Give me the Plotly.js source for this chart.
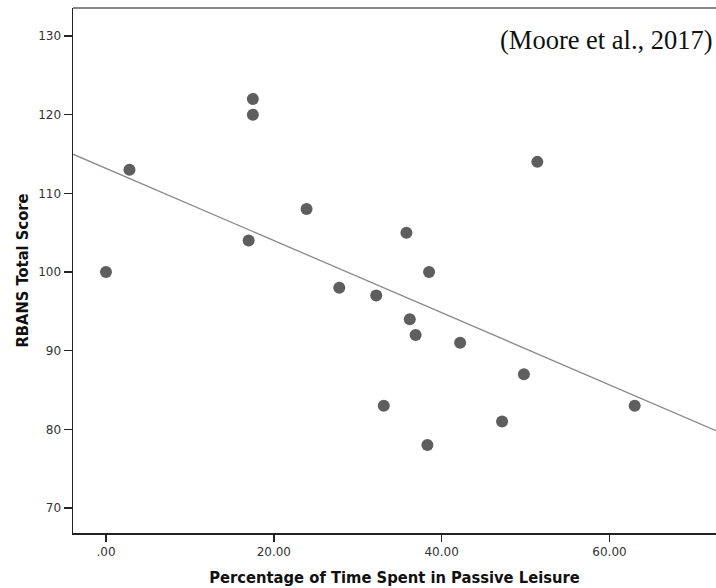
<!DOCTYPE html>
<html>
<head>
<meta charset="utf-8">
<script src="https://cdn.plot.ly/plotly-3.0.1.min.js"></script>
<style>html,body{margin:0;padding:0;background:#fff;}#chart{width:716px;height:588px;}</style>
</head>
<body>
<div id="chart"></div>
<script>
// Data
const passiveLeisurePct = [0, 2.8, 17.5, 17.5, 17.0, 23.9, 27.8, 32.2, 33.1, 35.8, 36.2, 36.9, 38.5, 38.3, 42.2, 47.2, 49.8, 51.4, 63.0];
const rbansScore        = [100, 113, 122, 120, 104, 108, 98, 97, 83, 105, 94, 92, 100, 78, 91, 81, 87, 114, 83];
const xTickVals = [0, 20, 40, 60];
const xTickText = ['.00', '20.00', '40.00', '60.00'];
const yTickVals = [70, 80, 90, 100, 110, 120, 130];
const xRange = [-3.93, 72.69];
const yRange = [66.82, 133.56];

// Least-squares fit line
const n = passiveLeisurePct.length;
const mx = passiveLeisurePct.reduce((a, b) => a + b, 0) / n;
const my = rbansScore.reduce((a, b) => a + b, 0) / n;
let sxy = 0, sxx = 0;
for (let i = 0; i < n; i++) {
  sxy += (passiveLeisurePct[i] - mx) * (rbansScore[i] - my);
  sxx += (passiveLeisurePct[i] - mx) ** 2;
}
const slope = sxy / sxx;
const intercept = my - slope * mx;
const fitX = [xRange[0], xRange[1]];
const fitY = fitX.map(x => intercept + slope * x);

const titleFont = 'DejaVu Sans Condensed, sans-serif';
const tickFont = {family: 'DejaVu Sans', size: 12, color: '#333'};

const traces = [
  {
    x: fitX, y: fitY, type: 'scatter', mode: 'lines',
    line: {color: '#8a8a8a', width: 1.3}, hoverinfo: 'skip', showlegend: false
  },
  {
    x: passiveLeisurePct, y: rbansScore, type: 'scatter', mode: 'markers',
    marker: {color: '#5e5e5e', size: 12, line: {width: 0}}, showlegend: false
  }
];

const layout = {
  width: 716, height: 588,
  margin: {l: 73, r: 0, t: 8, b: 55},
  paper_bgcolor: '#fff', plot_bgcolor: '#fff',
  showlegend: false,
  xaxis: {
    range: xRange, tickvals: xTickVals, ticktext: xTickText,
    showgrid: false, zeroline: false, showline: true, linecolor: '#222', linewidth: 1.5,
    ticks: 'outside', ticklen: 7, tickwidth: 1.5, tickcolor: '#222',
    tickfont: tickFont,
    title: {text: 'Percentage of Time Spent in Passive Leisure', standoff: 13,
      font: {family: titleFont, size: 16.4, color: '#111', weight: 'bold'}}
  },
  yaxis: {
    range: yRange, tickvals: yTickVals,
    showgrid: false, zeroline: false, showline: true, linecolor: '#222', linewidth: 1.5,
    ticks: 'outside', ticklen: 8, tickwidth: 1.5, tickcolor: '#222',
    tickfont: tickFont,
    title: {text: 'RBANS Total Score', standoff: 5,
      font: {family: titleFont, size: 16.4, color: '#111', weight: 'bold'}}
  },
  shapes: [
    {type: 'line', xref: 'paper', yref: 'paper', x0: 0, x1: 1, y0: 1, y1: 1,
     line: {color: '#888', width: 2}}
  ],
  annotations: [
    {xref: 'paper', yref: 'paper', x: 0.998, y: 0.94, xanchor: 'right', yanchor: 'middle',
     text: '(Moore et al., 2017)', showarrow: false,
     font: {family: 'Liberation Serif, Times New Roman, serif', size: 26.5, color: '#111'}}
  ]
};

Plotly.newPlot('chart', traces, layout, {displayModeBar: false, staticPlot: true});
</script>
</body>
</html>
